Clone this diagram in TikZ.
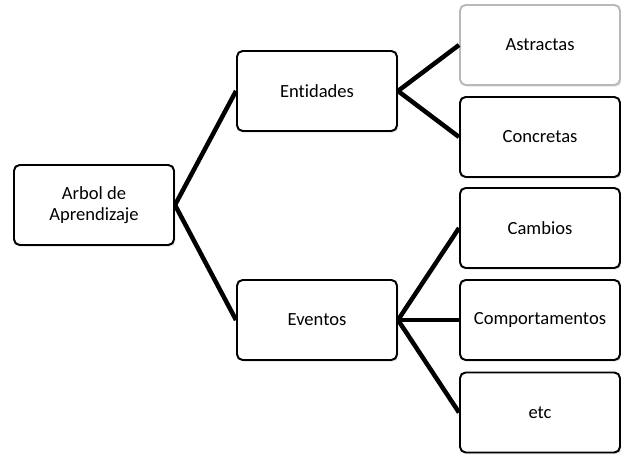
\documentclass[tikz,border=0pt]{standalone}
\usepackage{fontspec}
\setmainfont[RawFeature=-liga]{Carlito}
\usetikzlibrary{shadows}
\begin{document}
\begin{tikzpicture}[
        box/.style={draw, line width=1.4pt, rounded corners=4pt, fill=white,
            minimum width=4cm, minimum height=2cm, align=center,
            font=\fontsize{13.2}{14.5}\selectfont,
            drop shadow={shadow xshift=1pt, shadow yshift=-1.2pt, fill=gray!45}},
        link/.style={line width=3.2pt}]
        \useasboundingbox (0,0) rectangle (15.525,11.375);

        \node[box] (arbol) at (2.35,6.25) {Arbol de\\Aprendizaje};
        \node[box] (entidades) at (7.925,9.1) {Entidades};
        \node[box] (eventos) at (7.925,3.375) {Eventos};

        \node[box, draw=gray!55] (astractas) at (13.5,10.25) {Astractas};
        \node[box] (concretas) at (13.5,7.95) {Concretas};
        \node[box] (cambios) at (13.5,5.675) {Cambios};
        \node[box] (comportamentos) at (13.5,3.375) {Comportamentos};
        \node[box] (etc) at (13.5,1.0625) {etc};

        \draw[link] (arbol.east) -- (entidades.west);
        \draw[link] (arbol.east) -- (eventos.west);
        \draw[link] (entidades.east) -- (astractas.west);
        \draw[link] (entidades.east) -- (concretas.west);
        \draw[link] (eventos.east) -- (cambios.west);
        \draw[link] (eventos.east) -- (comportamentos.west);
        \draw[link] (eventos.east) -- (etc.west);
    \end{tikzpicture}
\end{document}
